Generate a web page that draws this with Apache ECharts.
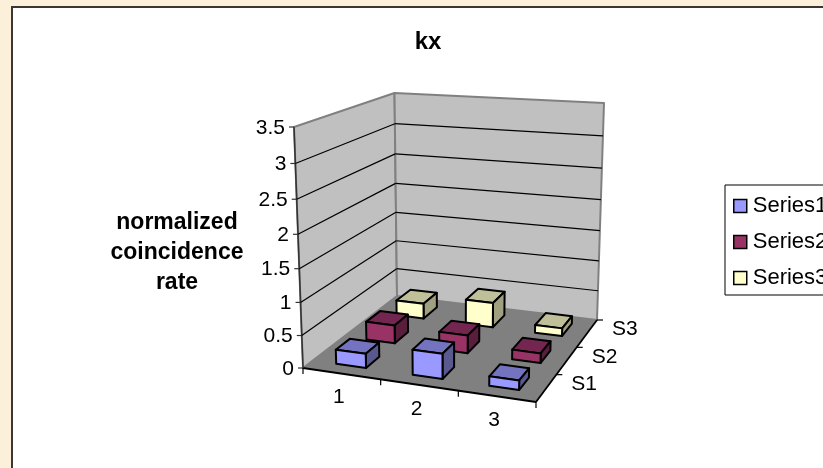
<!DOCTYPE html>
<html>
<head>
<meta charset="utf-8">
<style>
html,body{margin:0;padding:0;background:#fcf0da;overflow:hidden}
#chart{width:823px;height:468px}
</style>
<script src="https://cdn.jsdelivr.net/npm/echarts@6/dist/echarts.min.js"></script>
</head>
<body>
<div id="chart"></div>
<script>
// Chart values
const categories = ['1', '2', '3'];
const depthLabels = ['S1', 'S2', 'S3'];
const valueTicks = ['0', '0.5', '1', '1.5', '2', '2.5', '3', '3.5'];
const series1 = [0.22, 0.38, 0.14];
const series2 = [0.29, 0.28, 0.15];
const series3 = [0.256, 0.41, 0.127];
const seriesNames = ['Series1', 'Series2', 'Series3'];

// Face shades: front, top, side
const shades = [
  ['#9999ff', '#7373bf', '#59598f'],
  ['#993366', '#732650', '#5a1e3d'],
  ['#ffffcc', '#bfbf99', '#a0a080']
];

// Projected corners of the plot box: [depth][width][height]
const box = {
  base: [[[303, 368], [536, 402]], [[397, 296], [597, 320]]],
  top: [[[294, 127], [541, 140]], [[394.5, 93], [604, 103]]]
};
const heightWarp = 1.07;
const barShareWidth = 0.39;
const barShareDepth = 0.46;
const depthShift = 0.015;
const FONT = 'Arial, "Liberation Sans", sans-serif';

const lerp = (a, b, t) => a + (b - a) * t;

// Maps unit box coordinates to the screen with the perspective of the box
function project(u, v, w) {
  const h = w / (heightWarp + (1 - heightWarp) * w);
  const pt = [0, 1].map(k => {
    const b = lerp(lerp(box.base[0][0][k], box.base[0][1][k], u), lerp(box.base[1][0][k], box.base[1][1][k], u), v);
    const t = lerp(lerp(box.top[0][0][k], box.top[0][1][k], u), lerp(box.top[1][0][k], box.top[1][1][k], u), v);
    return lerp(b, t, h);
  });
  return pt;
}

// Reads unit coordinates from the hidden cartesian axes
function unitOf(api, params, cat, val) {
  const s = params.coordSys;
  const c = api.coord([cat, val]);
  return { u: (c[0] - s.x) / s.width, w: (s.y + s.height - c[1]) / s.height };
}

function poly(points, fill, stroke, lineWidth) {
  return {
    type: 'polygon',
    shape: { points },
    style: { fill, stroke: stroke || 'none', lineWidth: lineWidth || 0, lineJoin: 'round' }
  };
}

function line(a, b, stroke, lineWidth) {
  return {
    type: 'line',
    shape: { x1: a[0], y1: a[1], x2: b[0], y2: b[1] },
    style: { stroke, lineWidth }
  };
}

function label(text, x, y, align) {
  return {
    type: 'text',
    style: { text, x, y, fill: '#000', font: '21px ' + FONT, align, verticalAlign: 'middle' }
  };
}

// Walls and floor of the box
function renderWalls() {
  const a = project(0, 0, 0), b = project(1, 0, 0), c = project(0, 1, 0), d = project(1, 1, 0);
  const at = project(0, 0, 1), ct = project(0, 1, 1), dt = project(1, 1, 1);
  return {
    type: 'group',
    children: [
      poly([a, at, ct, c], '#c0c0c0', '#808080', 2),
      poly([c, ct, dt, d], '#c0c0c0', '#808080', 2),
      poly([a, b, d, c], '#808080'),
      line(a, b, '#000', 1.8),
      line(b, d, '#000', 1.8),
      line(a, at, '#333', 1.5)
    ]
  };
}

// Gridlines, ticks and labels of the value axis
function renderValueTick(params, api) {
  const v = api.value(1);
  const { w } = unitOf(api, params, 0, v);
  const p0 = project(0, 0, w), p1 = project(0, 1, w), p2 = project(1, 1, w);
  const children = [
    line([p0[0] - 5, p0[1]], p0, '#333', 1.2),
    label(api.value(2), p0[0] - 9, p0[1] + 1, 'right')
  ];
  if (v > 0 && v < 3.5) {
    children.push(line(p0, p1, '#000', 1.2), line(p1, p2, '#000', 1.2));
  }
  return { type: 'group', children };
}

// Ticks and labels along the front edge
function renderCategoryTick(params, api) {
  const i = api.value(0);
  const { u } = unitOf(api, params, i, 0);
  const edge = project(u, 0, 0);
  const end = project((i + 1) / categories.length, 0, 0);
  const children = [
    line(end, [end[0], end[1] + 6], '#000', 1.2),
    label(categories[i], edge[0] - 3, edge[1] + 24, 'center')
  ];
  if (i === 0) {
    const start = project(0, 0, 0);
    children.push(line(start, [start[0], start[1] + 6], '#000', 1.2));
  }
  return { type: 'group', children };
}

// Ticks and labels along the depth edge
function renderDepthTick(params, api) {
  const j = params.dataIndex;
  const edge = project(1, (j + 0.5) / depthLabels.length, 0);
  const end = project(1, (j + 1) / depthLabels.length, 0);
  return {
    type: 'group',
    children: [
      line(end, [end[0] + 6, end[1]], '#000', 1.2),
      label(depthLabels[j], edge[0] + 38, edge[1] - 4, 'center')
    ]
  };
}

// One 3-D column
function barRenderer(depthIndex) {
  const colors = shades[depthIndex];
  return function (params, api) {
    const i = api.value(0);
    const { u: uc, w } = unitOf(api, params, i, api.value(1));
    const halfU = barShareWidth / categories.length / 2;
    const halfV = barShareDepth / depthLabels.length / 2;
    const vc = (depthIndex + 0.5) / depthLabels.length + depthShift;
    const u0 = uc - halfU, u1 = uc + halfU, v0 = vc - halfV, v1 = vc + halfV;
    const fb = project(u0, v0, 0), fr = project(u1, v0, 0);
    const ft = project(u0, v0, w), frt = project(u1, v0, w);
    const bt = project(u0, v1, w), brt = project(u1, v1, w), br = project(u1, v1, 0);
    return {
      type: 'group',
      children: [
        poly([ft, frt, brt, bt], colors[1], '#000', 2),
        poly([fr, frt, brt, br], colors[2], '#000', 2),
        poly([fb, fr, frt, ft], colors[0], '#000', 2)
      ]
    };
  };
}

const barData = [series1, series2, series3];
const barSeries = [2, 1, 0].map(j => ({
  name: seriesNames[j],
  type: 'custom',
  renderItem: barRenderer(j),
  itemStyle: { color: shades[j][0] },
  data: barData[j].map((v, i) => [i, v]),
  encode: { x: 0, y: 1 }
}));

const chart = echarts.init(document.getElementById('chart'));
chart.setOption({
  animation: false,
  backgroundColor: 'transparent',
  title: [
    {
      text: 'kx',
      left: 423,
      top: 37,
      textAlign: 'center',
      textVerticalAlign: 'middle',
      textStyle: { fontFamily: FONT, fontSize: 24, fontWeight: 'bold', color: '#000' }
    },
    {
      text: 'normalized\ncoincidence\nrate',
      left: 172,
      top: 203,
      textAlign: 'center',
      textStyle: { fontFamily: FONT, fontSize: 23, fontWeight: 'bold', color: '#000', lineHeight: 30, align: 'center' }
    }
  ],
  legend: {
    data: seriesNames,
    orient: 'vertical',
    left: 725,
    top: 185,
    padding: [10, 20, 6, 8],
    itemWidth: 13,
    itemHeight: 13,
    itemGap: 14,
    icon: 'rect',
    selectedMode: false,
    backgroundColor: '#fff',
    borderColor: '#000',
    borderWidth: 1,
    itemStyle: { borderColor: '#000', borderWidth: 1.5 },
    textStyle: { fontFamily: FONT, fontSize: 22, color: '#000', padding: [0, 0, 0, 1] }
  },
  grid: { left: 303, top: 128, width: 233, height: 240 },
  xAxis: { type: 'category', data: categories, show: false },
  yAxis: { type: 'value', min: 0, max: 3.5, interval: 0.5, show: false },
  graphic: [{
    type: 'rect',
    shape: { x: 12, y: 7, width: 900, height: 600 },
    style: { fill: '#fff', stroke: '#3b3631', lineWidth: 2 },
    silent: true
  }],
  series: [
    { type: 'custom', renderItem: renderWalls, data: [[0, 0]], silent: true },
    {
      type: 'custom',
      renderItem: renderValueTick,
      data: valueTicks.map(t => [0, parseFloat(t), t]),
      encode: { x: 0, y: 1 },
      silent: true
    },
    {
      type: 'custom',
      renderItem: renderCategoryTick,
      data: categories.map((c, i) => [i, 0]),
      encode: { x: 0, y: 1 },
      silent: true
    },
    {
      type: 'custom',
      renderItem: renderDepthTick,
      data: depthLabels.map(() => [0, 0]),
      encode: { x: 0, y: 1 },
      silent: true
    }
  ].concat(barSeries)
});
</script>
</body>
</html>
